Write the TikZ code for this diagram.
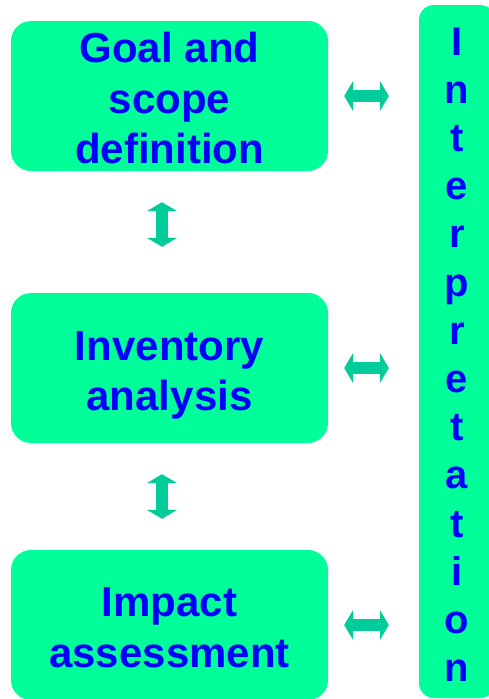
\documentclass[tikz,border=0pt]{standalone}
\usepackage{fontspec}
\setmainfont{Liberation Sans}
\usetikzlibrary{arrows.meta}
\definecolor{boxgreen}{HTML}{00FF99}
\definecolor{arrowgreen}{HTML}{00CC99}
\definecolor{textblue}{HTML}{0000FF}
\begin{document}
\begin{tikzpicture}[x=1pt,y=-1pt,
  stagebox/.style={rectangle, rounded corners=20pt, fill=boxgreen, draw=none,
    minimum width=317pt, minimum height=150pt, align=center, text=textblue,
    font=\fontsize{42}{50.5}\selectfont\bfseries, text depth=0pt, inner sep=0pt},
  interbar/.style={rectangle, rounded corners=15pt, fill=boxgreen, draw=none,
    minimum width=76pt, minimum height=693pt, align=center, text=textblue,
    font=\fontsize{40}{48.2}\selectfont\bfseries, text depth=0pt, inner sep=0pt},
  linkarrow/.style={draw=arrowgreen, line width=12pt,
    {Triangle[width=30pt,length=9pt]}-{Triangle[width=30pt,length=9pt]}}
]
\useasboundingbox (0,0) rectangle (489,699);
\node[stagebox, text height=135.5pt] (b1) at (169.5,96) {Goal and\\scope\\definition};
\node[stagebox, text height=85pt] (b2) at (169.5,368) {Inventory\\analysis};
\node[stagebox, text height=84.5pt] (b3) at (169.5,625) {Impact\\assessment};
\node[interbar, text height=660.5pt] (interp) at (457,351.5) {I\\n\\t\\e\\r\\p\\r\\e\\t\\a\\t\\i\\o\\n};
\draw[linkarrow, shorten <=16pt, shorten >=30pt] (b1.east) -- (b1.east -| interp.west);
\draw[linkarrow, shorten <=16pt, shorten >=30pt] (b2.east) -- (b2.east -| interp.west);
\draw[linkarrow, shorten <=16pt, shorten >=30pt] (b3.east) -- (b3.east -| interp.west);
\draw[linkarrow, shorten <=31pt, shorten >=46pt] ([xshift=-7.5pt]b1.south) -- ([xshift=-7.5pt]b2.north);
\draw[linkarrow, shorten <=31pt, shorten >=31pt] ([xshift=-7.5pt]b2.south) -- ([xshift=-7.5pt]b3.north);
\end{tikzpicture}
\end{document}
